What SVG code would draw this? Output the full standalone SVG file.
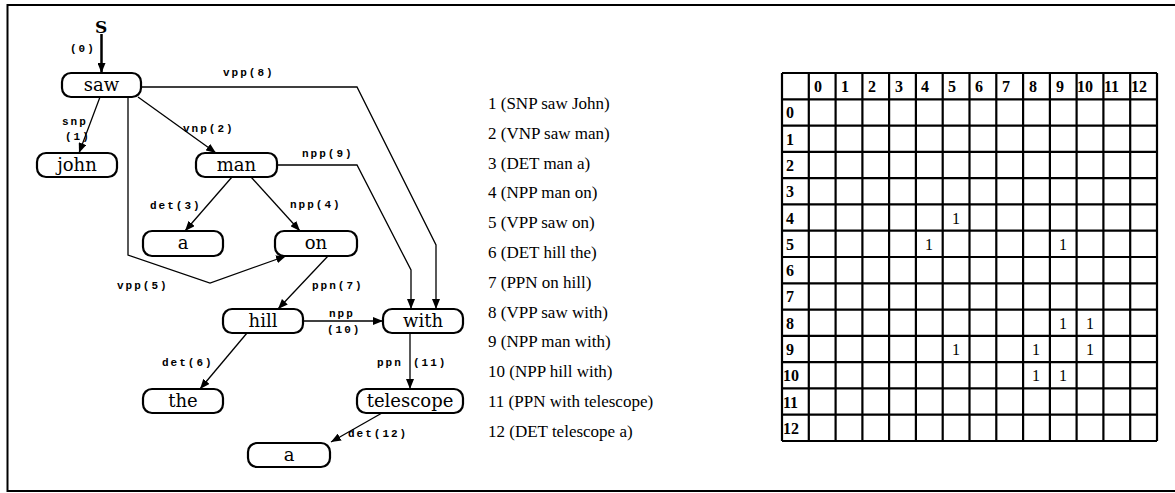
<svg xmlns="http://www.w3.org/2000/svg" width="1175" height="493" viewBox="0 0 1175 493">
<style>
.node rect{fill:#fff;stroke:#000;stroke-width:2.2}
.node text{font-family:"DejaVu Serif",serif;font-size:18px;text-anchor:middle;fill:#000}
.edge{fill:none;stroke:#000;stroke-width:1.3}
.lbl{font-family:"Liberation Mono",monospace;font-size:11px;font-weight:bold;letter-spacing:2px;fill:#000}
.leg{font-family:"Liberation Serif",serif;font-size:17px;fill:#000}
.grid{stroke:#000;stroke-width:2.2;fill:none}
.hd{font-family:"Liberation Serif",serif;font-size:16px;font-weight:bold;fill:#000}
.one{font-family:"Liberation Serif",serif;font-size:16px;fill:#000;text-anchor:middle}
</style>
<defs>
<marker id="ah" viewBox="0 0 10 8" refX="10" refY="4" markerWidth="10" markerHeight="8" markerUnits="userSpaceOnUse" orient="auto">
<path d="M0,0 L10,4 L0,8 Z" fill="#000"/>
</marker>
</defs>
<rect width="1175" height="493" fill="#fff"/>
<path d="M1175,5 H7.5 V491 H1175" fill="none" stroke="#000" stroke-width="2"/>

<g id="connectors">
<text x="95" y="33" style="font-family:'DejaVu Serif',serif;font-size:17px;font-weight:bold">S</text>
<line x1="101.5" y1="34" x2="101.5" y2="73" stroke="#000" stroke-width="2.5" marker-end="url(#ah)"/>
<path class="edge" d="M100,97 L79,153" marker-end="url(#ah)"/>
<path class="edge" d="M138,97 L216,153" marker-end="url(#ah)"/>
<path class="edge" d="M141,87 L357,87 L436,245 L436,309" marker-end="url(#ah)"/>
<path class="edge" d="M277,165 L357,165 L411,270 L411,309" marker-end="url(#ah)"/>
<path class="edge" d="M232,177 L185,231" marker-end="url(#ah)"/>
<path class="edge" d="M251,177 L300,231" marker-end="url(#ah)"/>
<path class="edge" d="M128,97 L128,255 L210,283 L286,256" marker-end="url(#ah)"/>
<path class="edge" d="M328,256 L278,309" marker-end="url(#ah)"/>
<path class="edge" d="M303,321 L383,321" stroke-width="2" marker-end="url(#ah)"/>
<path class="edge" d="M247,333 L200,389" marker-end="url(#ah)"/>
<path class="edge" d="M410,333 L410,389" marker-end="url(#ah)"/>
<path class="edge" d="M382,413 L331,442" marker-end="url(#ah)"/>
<text class="lbl" x="70" y="52">(0)</text>
<text class="lbl" x="62" y="125">snp</text>
<text class="lbl" x="65" y="140">(1)</text>
<text class="lbl" x="183" y="132">vnp(2)</text>
<text class="lbl" x="223" y="76">vpp(8)</text>
<text class="lbl" x="302" y="157">npp(9)</text>
<text class="lbl" x="150" y="209">det(3)</text>
<text class="lbl" x="290" y="208">npp(4)</text>
<text class="lbl" x="117" y="289">vpp(5)</text>
<text class="lbl" x="312" y="289">ppn(7)</text>
<text class="lbl" x="329" y="317">npp</text>
<text class="lbl" x="327" y="333">(10)</text>
<text class="lbl" x="162" y="366">det(6)</text>
<text class="lbl" x="377" y="366">ppn</text>
<text class="lbl" x="413" y="366">(11)</text>
<text class="lbl" x="348" y="437">det(12)</text>
</g>

<g id="n-saw" class="node"><rect x="62" y="73" width="79" height="24" rx="9"/><text x="101.5" y="91">saw</text></g>
<g id="n-john" class="node"><rect x="37" y="153" width="80" height="24" rx="9"/><text x="77" y="171">john</text></g>
<g id="n-man" class="node"><rect x="196" y="153" width="81" height="24" rx="9"/><text x="236.5" y="171">man</text></g>
<g id="n-a1" class="node"><rect x="143" y="231" width="80" height="25" rx="9"/><text x="183" y="249">a</text></g>
<g id="n-on" class="node"><rect x="275" y="231" width="82" height="25" rx="9"/><text x="316" y="249">on</text></g>
<g id="n-hill" class="node"><rect x="223" y="309" width="80" height="24" rx="9"/><text x="263" y="327">hill</text></g>
<g id="n-with" class="node"><rect x="383" y="309" width="80" height="24" rx="9"/><text x="423" y="327">with</text></g>
<g id="n-the" class="node"><rect x="143" y="389" width="80" height="24" rx="9"/><text x="183" y="407">the</text></g>
<g id="n-telescope" class="node"><rect x="357" y="389" width="106" height="24" rx="9"/><text x="410" y="407">telescope</text></g>
<g id="n-a2" class="node"><rect x="248" y="443" width="82" height="24" rx="9"/><text x="289" y="461">a</text></g>

<g id="legend" class="leg">
<text x="488" y="109">1 (SNP saw John)</text>
<text x="488" y="138.8">2 (VNP saw man)</text>
<text x="488" y="168.6">3 (DET man a)</text>
<text x="488" y="198.4">4 (NPP man on)</text>
<text x="488" y="228.2">5 (VPP saw on)</text>
<text x="488" y="258">6 (DET hill the)</text>
<text x="488" y="287.8">7 (PPN on hill)</text>
<text x="488" y="317.6">8 (VPP saw with)</text>
<text x="488" y="347.4">9 (NPP man with)</text>
<text x="488" y="377.2">10 (NPP hill with)</text>
<text x="488" y="407">11 (PPN with telescope)</text>
<text x="488" y="436.8">12 (DET telescope a)</text>
</g>

<g id="matrix">
<path class="grid" d="M782,73 H1157 M782,99.3 H1157 M782,125.6 H1157 M782,151.9 H1157 M782,178.1 H1157 M782,204.4 H1157 M782,230.7 H1157 M782,257 H1157 M782,283.3 H1157 M782,309.6 H1157 M782,335.9 H1157 M782,362.1 H1157 M782,388.4 H1157 M782,414.7 H1157 M782,441 H1157"/>
<path class="grid" d="M782,73 V441 M808.8,73 V441 M835.6,73 V441 M862.4,73 V441 M889.1,73 V441 M915.9,73 V441 M942.7,73 V441 M969.5,73 V441 M996.3,73 V441 M1023.1,73 V441 M1049.9,73 V441 M1076.6,73 V441 M1103.4,73 V441 M1130.2,73 V441 M1157,73 V441"/>
<g class="hd">
<text x="814" y="92">0</text><text x="841" y="92">1</text><text x="868" y="92">2</text><text x="895" y="92">3</text><text x="921" y="92">4</text><text x="948" y="92">5</text><text x="975" y="92">6</text><text x="1002" y="92">7</text><text x="1029" y="92">8</text><text x="1056" y="92">9</text><text x="1077" y="92">10</text><text x="1104" y="92">11</text><text x="1131" y="92">12</text>
<text x="786" y="118">0</text><text x="786" y="145">1</text><text x="786" y="171">2</text><text x="786" y="197">3</text><text x="786" y="224">4</text><text x="786" y="250">5</text><text x="786" y="276">6</text><text x="786" y="302">7</text><text x="786" y="329">8</text><text x="786" y="355">9</text><text x="783" y="381">10</text><text x="783" y="408">11</text><text x="783" y="434">12</text>
</g>
<g class="one">
<text x="956" y="224">1</text>
<text x="929" y="250">1</text><text x="1063" y="250">1</text>
<text x="1063" y="329">1</text><text x="1090" y="329">1</text>
<text x="956" y="355">1</text><text x="1036" y="355">1</text><text x="1090" y="355">1</text>
<text x="1036" y="381">1</text><text x="1063" y="381">1</text>
</g>
</g>
</svg>
